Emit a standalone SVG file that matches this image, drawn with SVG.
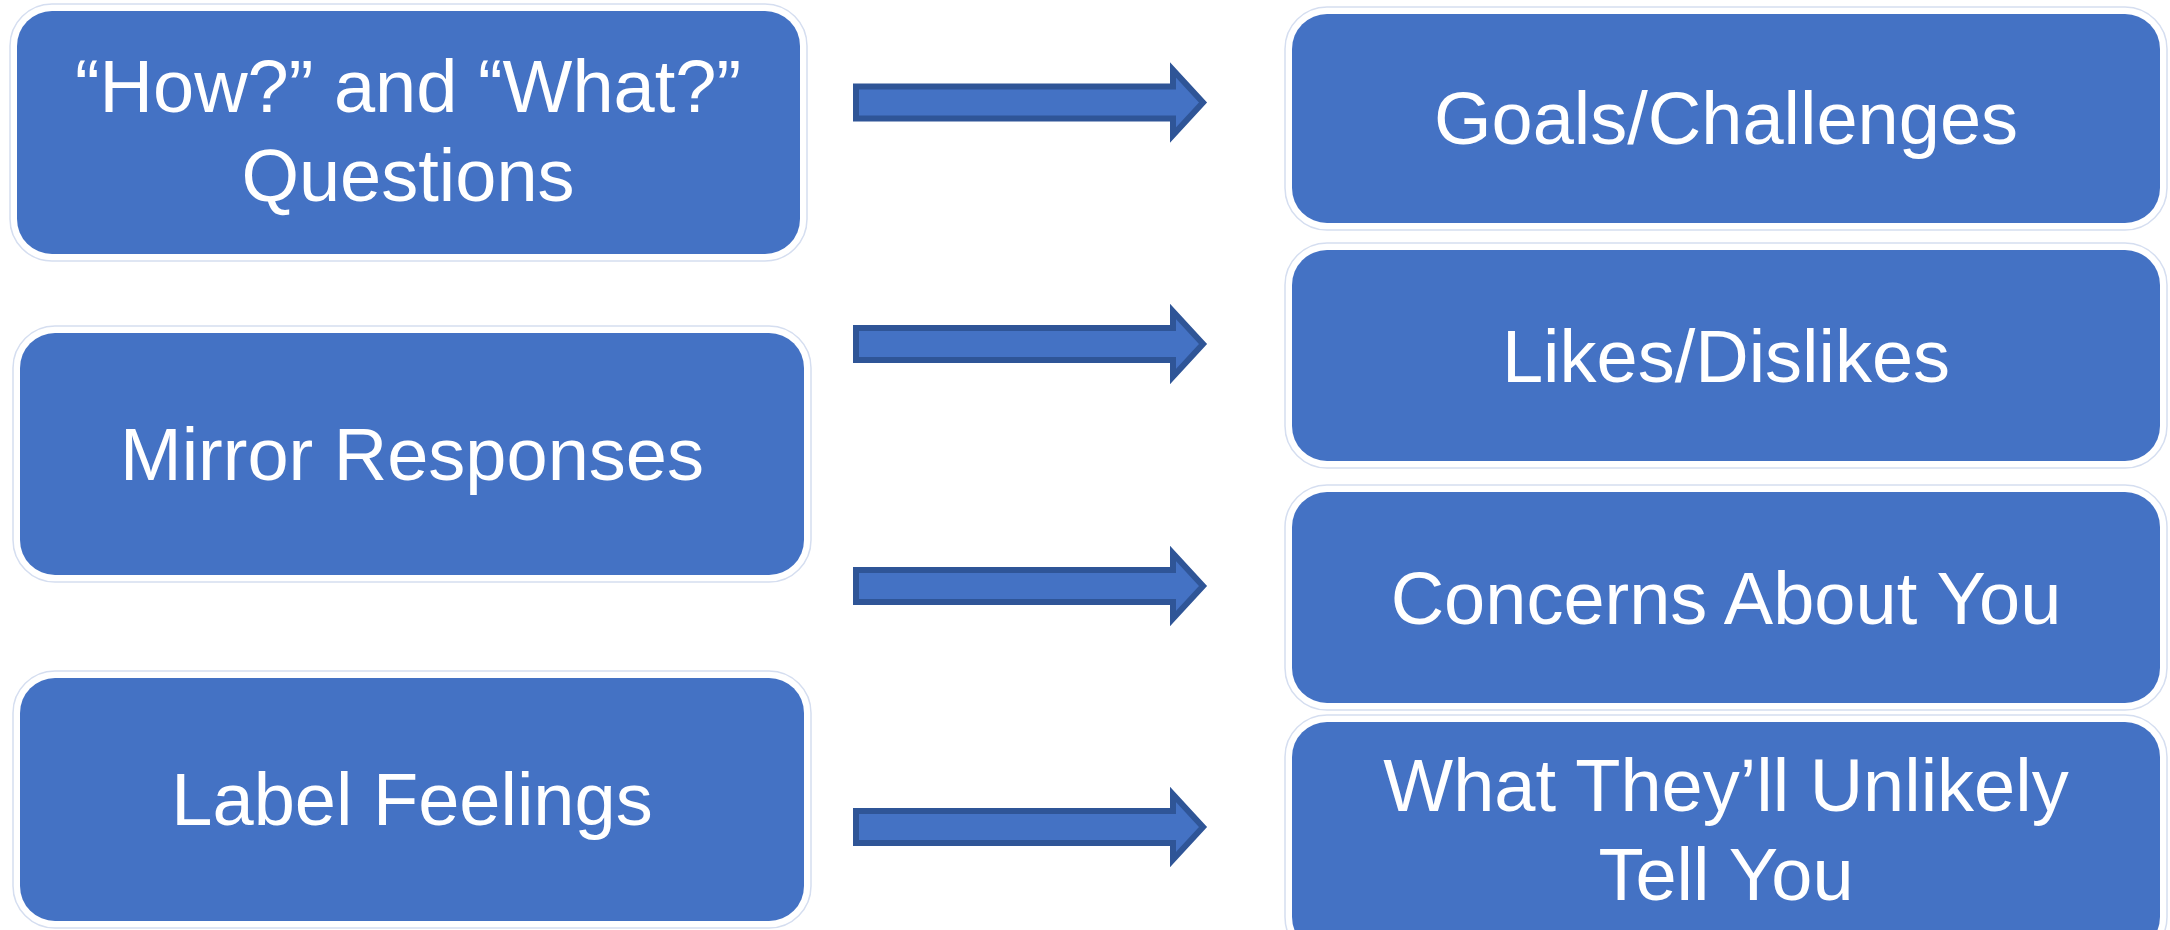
<svg xmlns="http://www.w3.org/2000/svg" width="2170" height="930" viewBox="0 0 2170 930">
<style>
.halo{fill:#ffffff;stroke:#d5def0;stroke-width:1.5}
.box{fill:#4472c4}
.lbl{font-family:"Liberation Sans",Arial,sans-serif;font-size:74px;fill:#ffffff;text-anchor:middle}
.arr{fill:#4472c4;stroke:#2f5597;stroke-width:6;stroke-linejoin:miter}
</style>
<rect width="2170" height="930" fill="#ffffff"/>
<g id="node-how-what">
<rect class="halo" x="10" y="4" width="797" height="257" rx="42"/>
<rect class="box" x="17" y="11" width="783" height="243" rx="35"/>
<text class="lbl" x="408" y="112">“How?” and “What?”</text>
<text class="lbl" x="408" y="201">Questions</text>
</g>
<g id="node-mirror">
<rect class="halo" x="13" y="326" width="798" height="256" rx="42"/>
<rect class="box" x="20" y="333" width="784" height="242" rx="35"/>
<text class="lbl" x="412" y="480">Mirror Responses</text>
</g>
<g id="node-label">
<rect class="halo" x="13" y="671" width="798" height="257" rx="42"/>
<rect class="box" x="20" y="678" width="784" height="243" rx="35"/>
<text class="lbl" x="412" y="825">Label Feelings</text>
</g>
<g id="node-goals">
<rect class="halo" x="1285" y="7" width="882" height="223" rx="42"/>
<rect class="box" x="1292" y="14" width="868" height="209" rx="35"/>
<text class="lbl" x="1726" y="144">Goals/Challenges</text>
</g>
<g id="node-likes">
<rect class="halo" x="1285" y="243" width="882" height="225" rx="42"/>
<rect class="box" x="1292" y="250" width="868" height="211" rx="35"/>
<text class="lbl" x="1726" y="382">Likes/Dislikes</text>
</g>
<g id="node-concerns">
<rect class="halo" x="1285" y="485" width="882" height="225" rx="42"/>
<rect class="box" x="1292" y="492" width="868" height="211" rx="35"/>
<text class="lbl" x="1726" y="624">Concerns About You</text>
</g>
<g id="node-unlikely">
<rect class="halo" x="1285" y="715" width="882" height="244" rx="42"/>
<rect class="box" x="1292" y="722" width="868" height="230" rx="35"/>
<text class="lbl" x="1726" y="811">What They’ll Unlikely</text>
<text class="lbl" x="1726" y="900">Tell You</text>
</g>
<g id="connectors">
<path class="arr" d="M856 86.5H1173V70L1203 102.5L1173 135V118.5H856Z"/>
<path class="arr" d="M856 328H1173V311.5L1203 344L1173 376.5V360H856Z"/>
<path class="arr" d="M856 570H1173V553.5L1203 586L1173 618.5V602H856Z"/>
<path class="arr" d="M856 811H1173V794.5L1203 827L1173 859.5V843H856Z"/>
</g>
</svg>
